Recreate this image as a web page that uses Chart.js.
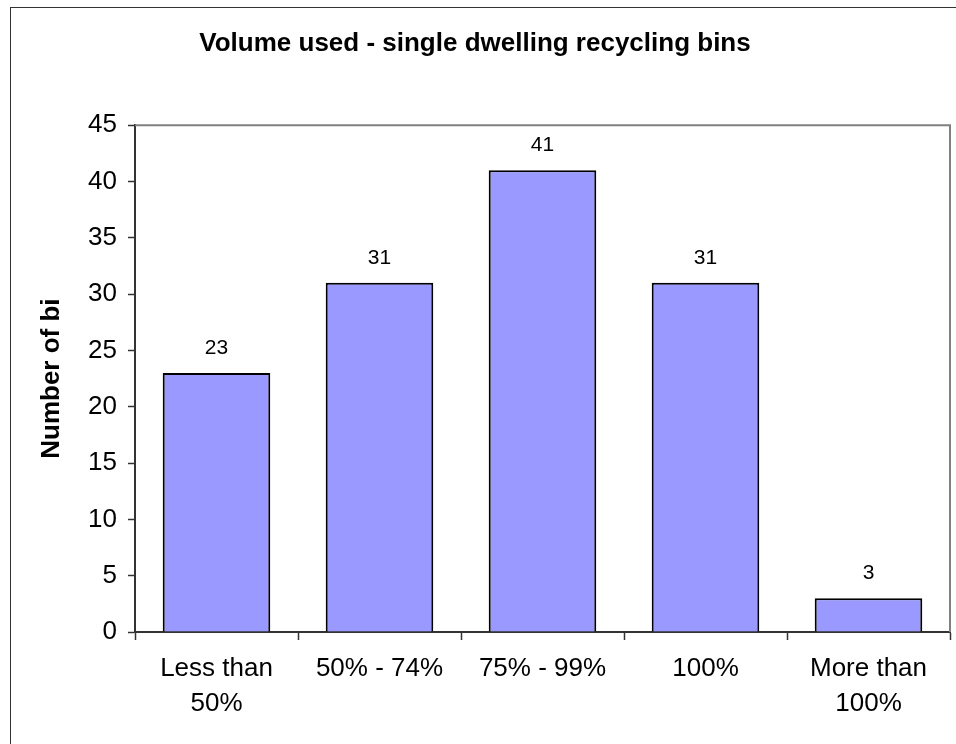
<!DOCTYPE html>
<html>
<head>
<meta charset="utf-8">
<script src="https://cdn.jsdelivr.net/npm/chart.js@4/dist/chart.umd.min.js"></script>
<style>
  html, body { margin: 0; padding: 0; background: #ffffff; }
  #wrap { width: 956px; height: 744px; position: relative; }
</style>
</head>
<body>
<div id="wrap"><canvas id="c" width="956" height="744"></canvas></div>
<script>
const chartTitle = 'Volume used - single dwelling recycling bins';
const yAxisTitle = 'Number of bi';
const categories = [['Less than', '50%'], '50% - 74%', '75% - 99%', '100%', ['More than', '100%']];
const binCounts = [23, 31, 41, 31, 3];
const yTicks = [0, 5, 10, 15, 20, 25, 30, 35, 40, 45];

const FONT = "'Liberation Sans', Arial, sans-serif";

const framePlugin = {
  id: 'frame',
  beforeDraw(chart) {
    const ctx = chart.ctx;
    ctx.save();
    ctx.fillStyle = '#ffffff';
    ctx.fillRect(0, 0, chart.width, chart.height);
    ctx.strokeStyle = '#333333';
    ctx.lineWidth = 1;
    ctx.strokeRect(10.5, 7.5, chart.width + 50, chart.height + 50);
    ctx.restore();
  },
  afterDraw(chart) {
    const a = chart.chartArea;
    const ctx = chart.ctx;
    ctx.save();
    ctx.strokeStyle = '#808080';
    ctx.lineWidth = 2;
    ctx.beginPath();
    ctx.moveTo(a.left, a.top);
    ctx.lineTo(a.right, a.top);
    ctx.lineTo(a.right, a.bottom);
    ctx.stroke();
    ctx.restore();
  }
};

const valueLabels = {
  id: 'valueLabels',
  afterDatasetsDraw(chart) {
    const ctx = chart.ctx;
    const meta = chart.getDatasetMeta(0);
    ctx.save();
    ctx.fillStyle = '#000000';
    ctx.font = '21px ' + FONT;
    ctx.textAlign = 'center';
    ctx.textBaseline = 'alphabetic';
    meta.data.forEach((bar, i) => {
      ctx.fillText(String(chart.data.datasets[0].data[i]), bar.x, bar.y - 19);
    });
    ctx.restore();
  }
};

new Chart(document.getElementById('c'), {
  type: 'bar',
  data: {
    labels: categories,
    datasets: [{
      data: binCounts,
      backgroundColor: '#9999FF',
      borderColor: '#000000',
      borderWidth: 2,
      barPercentage: 0.66,
      categoryPercentage: 1.0
    }]
  },
  options: {
    responsive: false,
    animation: false,
    layout: { padding: { left: 0, right: 6, top: 0, bottom: 0 } },
    plugins: {
      legend: { display: false },
      tooltip: { enabled: false },
      title: {
        display: true,
        text: chartTitle,
        color: '#000000',
        font: { family: FONT, size: 26, weight: 'bold', lineHeight: 1.2 },
        padding: { top: 28, bottom: 66 }
      }
    },
    scales: {
      x: {
        offset: true,
        grid: {
          offset: true,
          drawOnChartArea: false,
          drawTicks: true,
          tickLength: 8,
          tickColor: '#333333',
          tickWidth: 1.5
        },
        border: { display: true, color: '#333333', width: 2 },
        ticks: {
          color: '#000000',
          font: { family: FONT, size: 26, lineHeight: 1.35 },
          padding: 11,
          maxRotation: 0,
          autoSkip: false
        },
        afterFit(scale) { scale.height = 112; }
      },
      y: {
        min: 0,
        max: 45,
        afterBuildTicks(scale) { scale.ticks = yTicks.map(v => ({ value: v })); },
        grid: {
          drawOnChartArea: false,
          drawTicks: true,
          tickLength: 7,
          tickColor: '#333333',
          tickWidth: 1.5
        },
        border: { display: true, color: '#333333', width: 2 },
        ticks: {
          color: '#000000',
          font: { family: FONT, size: 26 },
          padding: 11
        },
        title: {
          display: true,
          text: yAxisTitle,
          color: '#000000',
          font: { family: FONT, size: 26, weight: 'bold', lineHeight: 1.2 },
          padding: { top: 36, bottom: 0 }
        },
        afterFit(scale) { scale.width = 135; }
      }
    }
  },
  plugins: [framePlugin, valueLabels]
});
</script>
</body>
</html>
